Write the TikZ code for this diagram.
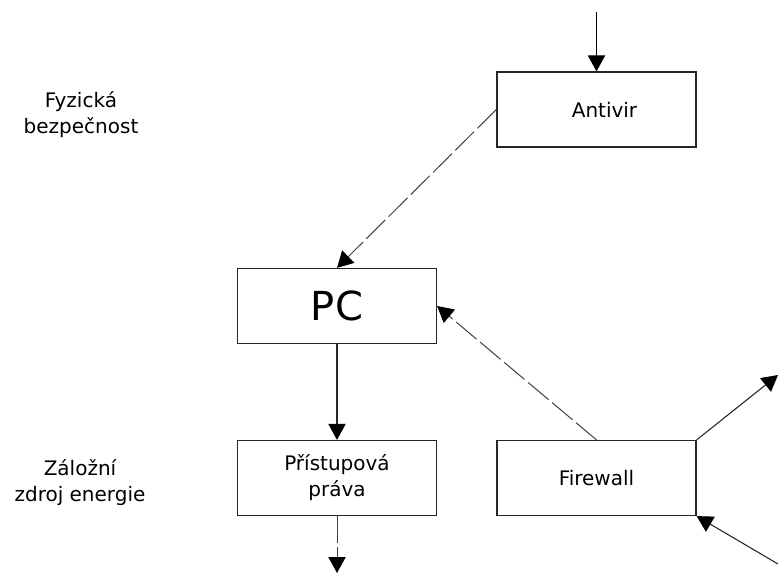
\documentclass[tikz,border=0pt]{standalone}
\usepackage{fontspec}
\setmainfont{DejaVu Sans}
\usetikzlibrary{arrows.meta}
\begin{document}
\begin{tikzpicture}[x=0.75pt,y=-0.75pt,
  box/.style={draw=black!85,line width=0.9pt,minimum width=149.25pt,minimum height=56.25pt,
    inner sep=0pt,font=\fontsize{15pt}{19.5pt}\selectfont,align=center},
  side/.style={font=\fontsize{15pt}{19.5pt}\selectfont,align=center,inner sep=0pt},
  conn/.style={draw=black!85,line width=0.8pt,-{Triangle[length=12pt,width=13pt,color=black]}},
  dconn/.style={conn,draw=black!75,line width=0.75pt,dash pattern=on 20pt off 3.5pt}]
\useasboundingbox (0,0) rectangle (778,573);

% boxes
\node[box] (antivir) at (596.5,109.5) {\hspace*{12pt}Antivir};
\node[box,font=\fontsize{30pt}{36pt}\selectfont] (pc) at (337,306) {PC};
\node[box] (prava) at (337,478) {Přístupová\\práva};
\node[box] (firewall) at (596.5,478) {Firewall};

% side labels
\node[side] (fyz) at (81,115) {Fyzická\\bezpečnost};
\node[side] (zdroj) at (80,483) {Záložní\\zdroj energie};

% free ends
\coordinate (top) at (596.5,12);
\coordinate (bottom) at (337,573);
\coordinate (outr) at (778,375);
\coordinate (inr) at (778,564);

% connectors
\draw[conn,draw=black] (top) -- (antivir.north);
\draw[dconn] (antivir.west) -- (pc.north);
\draw[dconn] (firewall.north) -- (pc.east);
\draw[conn] (pc.south) -- (prava.north);
\draw[dconn] (prava.south) -- (bottom);
\draw[conn] (firewall.north east) -- (outr);
\draw[conn] (inr) -- (firewall.south east);
\end{tikzpicture}
\end{document}
